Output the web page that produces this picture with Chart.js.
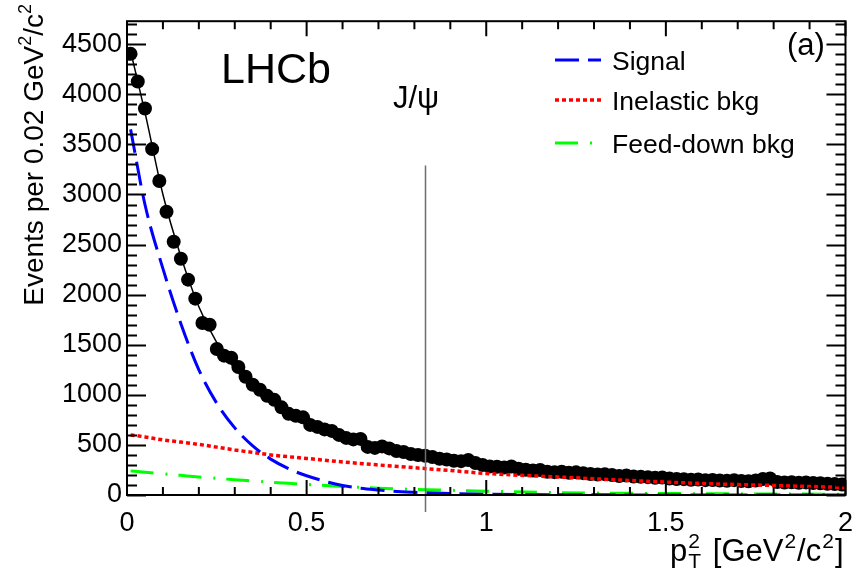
<!DOCTYPE html>
<html>
<head>
<meta charset="utf-8">
<script src="https://cdn.jsdelivr.net/npm/chart.js@4.4.1/dist/chart.umd.min.js"></script>
<style>
html, body { margin: 0; padding: 0; background: #fff; }
#wrap { width: 865px; height: 582px; }
</style>
</head>
<body>
<div id="wrap"><canvas id="chart" width="865" height="582"></canvas></div>
<script>
// pT^2 spectrum of J/psi candidates, 0.02 GeV^2/c^2 bins
var binLow = 0;
var binWidth = 0.02;
var yields = [
    4404, 4128, 3859, 3453, 3134, 2827, 2528, 2359, 2150, 1960,
    1717, 1700, 1457, 1391, 1370, 1278, 1180, 1100, 1050, 990,
    950, 875, 810, 790, 775, 700, 680, 655, 640, 600,
    570, 555, 560, 480, 470, 485, 465, 440, 430, 410,
    400, 392, 380, 362, 355, 342, 338, 350, 320, 300,
    285, 282, 275, 285, 262, 252, 245, 250, 232, 228,
    232, 222, 226, 218, 210, 205, 208, 200, 190, 195,
    185, 182, 178, 172, 175, 165, 160, 158, 152, 155,
    148, 150, 145, 142, 148, 140, 138, 145, 160, 165,
    130, 125, 128, 122, 126, 120, 118, 112, 110, 105
];

// fit components, sampled along pT^2
var curveX      = [0.01, 0.05, 0.1, 0.15, 0.2, 0.25, 0.3, 0.35, 0.4, 0.45, 0.5, 0.6, 0.7, 0.8, 0.9, 1.0, 1.2, 1.4, 1.6, 1.8, 2.0];
var fitY        = [4430, 3820, 3000, 2380, 1880, 1520, 1260, 1070, 930, 820, 730, 590, 485, 410, 350, 300, 235, 190, 155, 128, 105];
var signalY     = [3650, 2900, 2260, 1710, 1250, 915, 670, 490, 358, 262, 192, 95, 50, 27, 14, 8, 3, 1, 0.5, 0.2, 0.1];
var inelasticY  = [600, 580, 550, 528, 505, 478, 450, 425, 400, 382, 365, 330, 300, 272, 245, 215, 180, 145, 115, 95, 75];
var feedDownY   = [240, 228, 212, 196, 180, 166, 152, 140, 128, 117, 106, 85, 68, 56, 47, 38, 24, 17, 13, 10, 8];

var xTicks = [0, 0.5, 1, 1.5, 2];
var yTicks = [0, 500, 1000, 1500, 2000, 2500, 3000, 3500, 4000, 4500];
var jpsiCut = 0.83;

var FONT = '"Liberation Sans", Arial, Helvetica, sans-serif';

function xy(xs, ys) {
    return xs.map(function(x, i) { return { x: x, y: ys[i] }; });
}

var points = yields.map(function(v, i) {
    return { x: binLow + binWidth * (i + 0.5), y: v };
});

// draw a run of text pieces, some raised/lowered (super/subscripts)
function pieceWidth(ctx, p) {
    ctx.font = p.s + 'px ' + FONT;
    var w = ctx.measureText(p.t).width;
    if (p.sub) {
        ctx.font = p.sub.s + 'px ' + FONT;
        w = Math.max(w, ctx.measureText(p.sub.t).width);
    }
    return w + (p.gap || 0);
}
function drawPieces(ctx, pieces, x, y) {
    pieces.forEach(function(p) {
        ctx.font = p.s + 'px ' + FONT;
        ctx.fillText(p.t, x, y + (p.dy || 0));
        if (p.sub) {
            ctx.font = p.sub.s + 'px ' + FONT;
            ctx.fillText(p.sub.t, x, y + p.sub.dy);
        }
        x += pieceWidth(ctx, p);
    });
}
function totalWidth(ctx, pieces) {
    var w = 0;
    pieces.forEach(function(p) { w += pieceWidth(ctx, p); });
    return w;
}

var rootFrame = {
    id: 'rootFrame',
    afterDatasetsDraw: function(chart) {
        var ctx = chart.ctx;
        var a = chart.chartArea;
        var xs = chart.scales.x, ys = chart.scales.y;
        ctx.save();

        // J/psi selection line
        var cx = Math.round(xs.getPixelForValue(jpsiCut)) + 0.5;
        ctx.strokeStyle = 'rgb(110,110,110)';
        ctx.lineWidth = 1.5;
        ctx.beginPath();
        ctx.moveTo(cx, ys.getPixelForValue(3290));
        ctx.lineTo(cx, a.bottom + 17);
        ctx.stroke();

        // frame
        ctx.strokeStyle = '#000';
        ctx.lineWidth = 2;
        ctx.strokeRect(a.left, a.top, a.right - a.left, a.bottom - a.top);

        // inward ticks on all four sides
        ctx.lineWidth = 2;
        ctx.beginPath();
        for (var k = 0; k <= 20; k++) {
            var px = xs.getPixelForValue(k / 10);
            var len = (k % 5 === 0) ? 15 : 8;
            ctx.moveTo(px, a.bottom); ctx.lineTo(px, a.bottom - len);
            ctx.moveTo(px, a.top); ctx.lineTo(px, a.top + len);
        }
        for (var j = 0; j * 100 <= ys.max; j++) {
            var py = Math.round(ys.getPixelForValue(j * 100)) + 0.5;
            var ln = (j % 5 === 0) ? 19 : 10;
            ctx.moveTo(a.left, py); ctx.lineTo(a.left + ln, py);
            ctx.moveTo(a.right, py); ctx.lineTo(a.right - ln, py);
        }
        ctx.stroke();

        ctx.fillStyle = '#000';
        ctx.textAlign = 'left';
        ctx.textBaseline = 'alphabetic';
        ctx.font = '43px ' + FONT;
        ctx.fillText('LHCb', 221, 83);
        ctx.font = '31px ' + FONT;
        ctx.fillText('J/\u03c8', 393, 108);
        ctx.fillText('(a)', 787, 55);

        // legend
        var rows = [60, 100, 143];
        [2, 3, 4].forEach(function(di, r) {
            var ds = chart.data.datasets[di];
            ctx.save();
            ctx.strokeStyle = ds.borderColor;
            ctx.lineWidth = ds.borderWidth;
            ctx.setLineDash(ds.borderDash);
            ctx.beginPath();
            ctx.moveTo(555, rows[r]);
            ctx.lineTo(601, rows[r]);
            ctx.stroke();
            ctx.restore();
            ctx.font = '26.5px ' + FONT;
            ctx.fillText(ds.label, 612, rows[r] + 9.5);
        });

        // x axis title, right aligned
        var xt = [
            { t: 'p', s: 31, gap: 1 },
            { t: '2', s: 21, dy: -13, gap: 3, sub: { t: 'T', s: 21, dy: 7 } },
            { t: ' [GeV', s: 31, gap: 1 },
            { t: '2', s: 21, dy: -13, gap: 1 },
            { t: '/c', s: 31, gap: 1 },
            { t: '2', s: 21, dy: -13, gap: 1 },
            { t: ']', s: 31 }
        ];
        drawPieces(ctx, xt, a.right - 2 - totalWidth(ctx, xt), 561);

        // y axis title, rotated, ending at the top
        var yt = [
            { t: 'Events per 0.02 GeV', s: 28 },
            { t: '2', s: 18, dy: -12 },
            { t: '/c', s: 28 },
            { t: '2', s: 18, dy: -12 }
        ];
        ctx.translate(43, 4 + totalWidth(ctx, yt));
        ctx.rotate(-Math.PI / 2);
        drawPieces(ctx, yt, 0, 0);
        ctx.restore();
    }
};

var ctx = document.getElementById('chart').getContext('2d');
new Chart(ctx, {
    type: 'line',
    data: {
        datasets: [
            {
                label: 'Data', data: points, showLine: false,
                pointRadius: 7, pointBackgroundColor: '#000', pointBorderColor: '#000',
                pointBorderWidth: 0, order: 10
            },
            {
                label: 'Fit', data: xy(curveX, fitY), borderColor: '#000', borderWidth: 1.5,
                pointRadius: 0, cubicInterpolationMode: 'monotone', order: 9
            },
            {
                label: 'Signal', data: xy(curveX, signalY), borderColor: 'rgb(0,0,255)', borderWidth: 3,
                borderDash: [24, 9], pointRadius: 0, cubicInterpolationMode: 'monotone', order: 1
            },
            {
                label: 'Inelastic bkg', data: xy(curveX, inelasticY), borderColor: 'rgb(255,0,0)', borderWidth: 3.5,
                borderDash: [4, 3], pointRadius: 0, cubicInterpolationMode: 'monotone', order: 2
            },
            {
                label: 'Feed-down bkg', data: xy(curveX, feedDownY), borderColor: 'rgb(0,255,0)', borderWidth: 3,
                borderDash: [23, 12, 2, 11], pointRadius: 0, cubicInterpolationMode: 'monotone', order: 3
            }
        ]
    },
    options: {
        responsive: false,
        animation: false,
        devicePixelRatio: 1,
        layout: { padding: { left: 0, right: 3, top: 9, bottom: 0 } },
        plugins: { legend: { display: false }, tooltip: { enabled: false } },
        elements: { line: { fill: false } },
        scales: {
            x: {
                type: 'linear', min: 0, max: 2,
                grid: { display: false, drawTicks: false },
                border: { display: false },
                afterBuildTicks: function(scale) {
                    scale.ticks = xTicks.map(function(v) { return { value: v }; });
                },
                afterFit: function(scale) { scale.height = 87; },
                ticks: {
                    color: '#000', padding: 12, maxRotation: 0, autoSkip: false,
                    font: { family: FONT, size: 27 },
                    callback: function(v) { return String(v); }
                }
            },
            y: {
                type: 'linear', min: 0, max: 4730,
                grid: { display: false, drawTicks: false },
                border: { display: false },
                afterBuildTicks: function(scale) {
                    scale.ticks = yTicks.map(function(v) { return { value: v }; });
                },
                afterFit: function(scale) { scale.width = 127; },
                ticks: {
                    color: '#000', padding: 5, autoSkip: false,
                    font: { family: FONT, size: 27 },
                    callback: function(v) { return String(v); }
                }
            }
        }
    },
    plugins: [rootFrame]
});
</script>
</body>
</html>
